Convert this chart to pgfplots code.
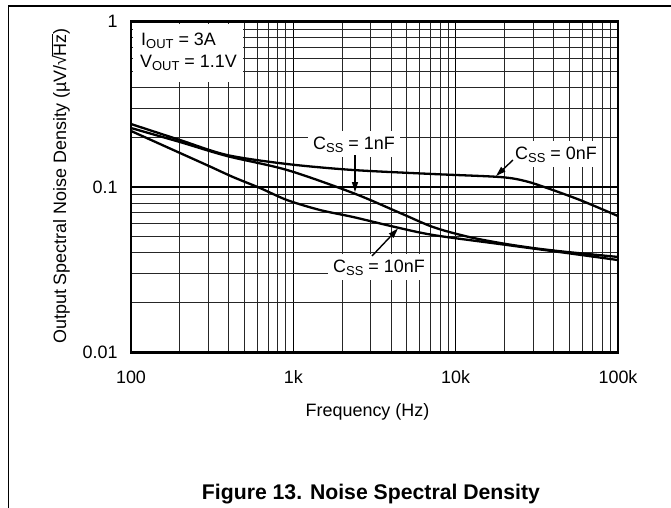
\documentclass[border=0pt]{standalone}
\usepackage{pgfplots}
\pgfplotsset{compat=1.18}
\usepackage{fontspec}
\setmainfont{Liberation Sans}
\usetikzlibrary{arrows.meta}
\newcommand{\sub}[1]{{\fontsize{13}{14}\selectfont\raisebox{-3bp}{#1}}}
\begin{document}
\begin{tikzpicture}
\path[use as bounding box] (0,0) rectangle (671bp,-508bp);
\draw[line width=1.2bp] (8.5bp,-508bp) -- (8.5bp,-6bp) -- (671bp,-6bp);
\begin{axis}[
  at={(131bp,-352.5bp)}, anchor=south west,
  width=487bp, height=331bp, scale only axis,
  xmode=log, ymode=log, xmin=100, xmax=100000, ymin=0.01, ymax=1,
  xtick={100,1000,10000,100000}, xticklabels={100,1k,10k,100k},
  ytick={0.01,0.1,1}, yticklabels={0.01,0.1,\raisebox{-5bp}{1}},
  minor xtick={200,300,400,500,600,700,800,900,2000,3000,4000,5000,6000,7000,8000,9000,20000,30000,40000,50000,60000,70000,80000,90000},
  minor ytick={0.02,0.03,0.04,0.05,0.06,0.07,0.08,0.09,0.2,0.3,0.4,0.5,0.6,0.7,0.8,0.9},
  grid=both,
  major grid style={black, line width=1.1bp},
  minor grid style={black!85, line width=0.85bp},
  major tick length=0pt, minor tick length=0pt,
  axis line style={line width=2.2bp},
  tick label style={font=\fontsize{18}{20}\selectfont},
  xticklabel style={anchor=base, yshift=-30.5bp},
  yticklabel style={xshift=-10bp},
]
% C_SS = 0nF
\addplot[black, line width=2.3bp, smooth] coordinates {
(100,0.2402) (200.4,0.1923) (390.4,0.1561) (914.9,0.1377) (2332,0.1267) (7254,0.1198) (18770,0.1149) (26770,0.1087) (36580,0.0986) (58420,0.0834) (100000,0.0668)
};
% C_SS = 1nF
\addplot[black, line width=2.3bp, smooth] coordinates {
(100,0.2272) (200.4,0.1870) (390.4,0.1539) (914.9,0.1267) (2332,0.0920) (4544,0.0697) (7254,0.0573) (11755,0.0502) (18770,0.0459) (29997,0.0428) (48580,0.0405) (100000,0.0378)
};
% C_SS = 10nF
\addplot[black, line width=2.3bp, smooth] coordinates {
(100,0.2181) (200.4,0.1605) (306.7,0.1330) (425.1,0.1149) (623.5,0.0986) (914.9,0.0834) (1460.5,0.0726) (2332,0.0659) (4115,0.0577) (7254,0.0513) (18770,0.0452) (48580,0.0399) (100000,0.0362)
};
\end{axis}
% condition box
\fill[white] (133.2bp,-23.7bp) rectangle (243bp,-82bp);
\node[anchor=base west, inner sep=0pt, font=\fontsize{18}{20}\selectfont] at (141bp,-45bp) {I\sub{OUT} = 3A};
\node[anchor=base west, inner sep=0pt, font=\fontsize{18}{20}\selectfont] at (140bp,-67bp) {V\sub{OUT} = 1.1V};
% curve labels
\node[anchor=base west, fill=white, inner xsep=5bp, inner ysep=5bp, font=\fontsize{18}{20}\selectfont] at (308bp,-149bp) {C\sub{SS} = 1nF};
\node[anchor=base west, fill=white, inner xsep=5bp, inner ysep=5bp, font=\fontsize{18}{20}\selectfont] at (510bp,-159bp) {C\sub{SS} = 0nF};
\node[anchor=base west, fill=white, inner xsep=5bp, inner ysep=5bp, font=\fontsize{18}{20}\selectfont] at (328bp,-272bp) {C\sub{SS} = 10nF};
% arrows
\draw[line width=1.4bp, -{Triangle[length=10bp,width=6bp]}] (355bp,-155bp) -- (355bp,-192bp);
\draw[line width=1.4bp, -{Triangle[length=10bp,width=6bp]}] (513bp,-160bp) -- (496bp,-176bp);
\draw[line width=1.4bp, -{Triangle[length=10bp,width=6bp]}] (372bp,-256bp) -- (398bp,-228.5bp);
% axis labels and title
\node[anchor=base, rotate=90, font=\fontsize{18}{20}\selectfont] at (66bp,-186bp) {Output Spectral Noise Density (µV/√\kern-0.5bp\vbox{\hrule height 0.9bp\kern 1bp\hbox{Hz}})};
\node[anchor=base, font=\fontsize{18}{20}\selectfont] at (367.5bp,-416.5bp) {Frequency (Hz)};
\node[anchor=base, font=\fontsize{21.3}{24}\selectfont\bfseries] at (371bp,-499bp) {Figure 13. Noise Spectral Density};
\end{tikzpicture}
\end{document}
